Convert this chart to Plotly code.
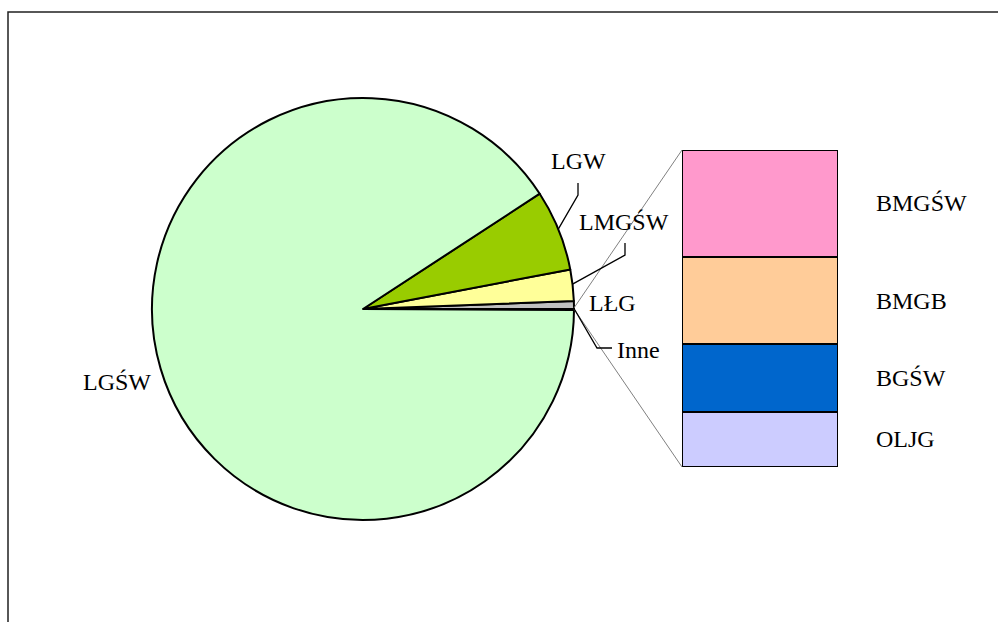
import plotly.graph_objects as go
import math

# Shares of the pie (percent); "Inne" is the sum of the breakdown bar
pie_labels = ["Inne", "LŁG", "LMGŚW", "LGW", "LGŚW"]
pie_other = [0.6, 2.4, 6.2, 90.72]
pie_colors = ["#FFFFFF", "#C0C0C0", "#FFFF99", "#99CC00", "#CCFFCC"]

# Breakdown of "Inne", stacked from bottom to top
bar_labels = ["OLJG", "BGŚW", "BMGB", "BMGŚW"]
bar_values = [0.014, 0.017, 0.022, 0.027]
bar_colors = ["#CCCCFF", "#0066CC", "#FFCC99", "#FF99CC"]

inne = sum(bar_values)
pie_values = [inne] + pie_other
total = sum(pie_values)

W, H = 998, 622
FONT = "Liberation Serif, Times New Roman, serif"
FS = 24

# Pie geometry in pixels
CX, CY, R = 363, 309, 211
# Bar geometry in pixels
BX0, BX1, BY0, BY1 = 682, 838, 150, 467


def P(x, y):
    return x / W, 1 - y / H


def rim(angle_deg, r=R):
    a = math.radians(angle_deg)
    return CX + r * math.cos(a), CY - r * math.sin(a)


# Slice boundary angles (counterclockwise from 3 o'clock)
bounds = [0.0]
for v in pie_values:
    bounds.append(bounds[-1] + 360.0 * v / total)
mid = {lab: (bounds[i] + bounds[i + 1]) / 2 for i, lab in enumerate(pie_labels)}
edge = {lab: (bounds[i], bounds[i + 1]) for i, lab in enumerate(pie_labels)}

fig = go.Figure()

fig.add_trace(go.Pie(
    labels=pie_labels, values=pie_values, sort=False,
    direction="counterclockwise", rotation=90,
    marker=dict(colors=pie_colors, line=dict(color="black", width=2)),
    textinfo="none", hoverinfo="label+percent",
    domain=dict(x=[(CX - R) / W, (CX + R) / W],
                y=[1 - (CY + R) / H, 1 - (CY - R) / H]),
    showlegend=False,
))

for lab, val, col in zip(bar_labels, bar_values, bar_colors):
    fig.add_trace(go.Bar(
        x=[0], y=[val], width=[1], name=lab,
        marker=dict(color=col, line=dict(color="black", width=2)),
        showlegend=False, hoverinfo="name+y", cliponaxis=False,
    ))

shapes = []


def path(points, color="black", width=1):
    d = "M " + " L ".join(f"{P(x, y)[0]:.5f},{P(x, y)[1]:.5f}" for x, y in points)
    shapes.append(dict(type="path", path=d, xref="paper", yref="paper",
                       line=dict(color=color, width=width)))


# Connectors from the "Inne" slice to the breakdown bar
path([rim(edge["Inne"][1]), (BX0, BY0)], color="#808080", width=1)
path([rim(edge["Inne"][0]), (BX0, BY1)], color="#808080", width=1)

# Leader lines
path([(578, 183), (578, 195), rim(mid["LGW"])], width=1.3)
path([(625, 243), (625, 255), rim(mid["LMGŚW"])], width=1.3)
path([(612, 348), (597, 348), rim(mid["Inne"])], width=1.3)

# Chart area border
shapes.append(dict(type="rect", xref="paper", yref="paper",
                   x0=8 / W, y0=1 - 12 / H, x1=1.05, y1=-0.05,
                   line=dict(color="#202020", width=1.5), layer="below"))

annotations = []


def label(text, x, y, xanchor="center"):
    px, py = P(x, y)
    annotations.append(dict(text=text, x=px, y=py, xref="paper", yref="paper",
                            xanchor=xanchor, yanchor="middle", showarrow=False,
                            font=dict(family=FONT, size=FS, color="black")))


label("LGW", 578, 161)
label("LMGŚW", 624, 222)
label("LŁG", 612, 303)
label("Inne", 638, 350)
label("LGŚW", 117, 382)

# Bar segment labels, centred on each segment
cum = 0
for lab, val in zip(bar_labels, bar_values):
    annotations.append(dict(text=lab, x=874 / W, y=cum + val / 2,
                            xref="paper", yref="y", xanchor="left", yanchor="middle",
                            showarrow=False,
                            font=dict(family=FONT, size=FS, color="black")))
    cum += val

fig.update_layout(
    width=W, height=H, margin=dict(l=0, r=0, t=0, b=0),
    paper_bgcolor="white", plot_bgcolor="rgba(0,0,0,0)",
    barmode="stack", bargap=0,
    xaxis=dict(domain=[BX0 / W, BX1 / W], range=[-0.5, 0.5], visible=False, fixedrange=True),
    yaxis=dict(domain=[1 - BY1 / H, 1 - BY0 / H], range=[0, inne], visible=False, fixedrange=True),
    shapes=shapes, annotations=annotations,
)

fig.write_html("out.html")
